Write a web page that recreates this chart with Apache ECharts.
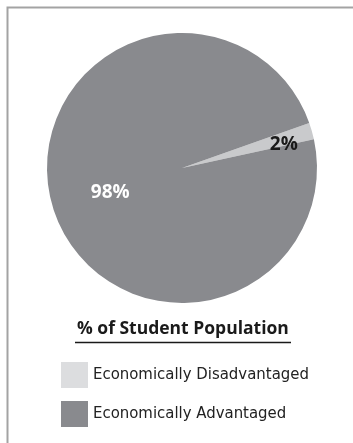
<!DOCTYPE html>
<html>
<head>
<meta charset="utf-8">
<script src="https://cdn.jsdelivr.net/npm/echarts@6/dist/echarts.min.js"></script>
<style>
  html, body { margin: 0; padding: 0; background: #fff; }
  #chart { width: 353px; height: 443px; }
</style>
</head>
<body>
<div id="chart"></div>
<script>
const categories = ['Economically Disadvantaged', 'Economically Advantaged'];
const values = [2, 98];
const sliceColors = ['#c9cacc', '#898a8e'];
const legendColors = ['#dcdddf', '#898a8e'];
const labelColors = ['#1a1a1a', '#ffffff'];
const chartTitle = '% of Student Population';

const chart = echarts.init(document.getElementById('chart'), null, { renderer: 'canvas' });
const font = '"Open Sans", "Noto Sans", sans-serif';

chart.setOption({
  animation: false,
  title: {
    text: chartTitle,
    left: 72,
    top: 315,
    textStyle: { fontFamily: font, fontSize: 17.5, fontWeight: 'bold', color: '#1a1a1a' }
  },
  legend: {
    orient: 'vertical',
    left: 56,
    top: 357,
    icon: 'rect',
    itemWidth: 27,
    itemHeight: 26,
    itemGap: 13,
    selectedMode: false,
    textStyle: { fontFamily: '"Liberation Sans Narrow", "DejaVu Sans Condensed", sans-serif', fontSize: 16.6, color: '#222' },
    data: categories.map((name, i) => ({ name, itemStyle: { color: legendColors[i] } }))
  },
  graphic: [
    { type: 'polyline', shape: { points: [[7.5, 443], [7.5, 7.5], [353, 7.5]] }, style: { stroke: '#a3a3a3', lineWidth: 2, fill: null } },
    { type: 'line', shape: { x1: 75, y1: 342.5, x2: 291, y2: 342.5 }, style: { stroke: '#1a1a1a', lineWidth: 1.5 } }
  ],
  series: [{
    type: 'pie',
    center: [182, 168],
    radius: 135,
    startAngle: 19.5,
    clockwise: true,
    silent: true,
    label: {
      position: 'inside',
      formatter: '{c}%',
      fontFamily: font,
      fontSize: 19,
      fontWeight: 'bold'
    },
    labelLayout: function (params) {
      if (params.dataIndex === 0) return { dx: 34, dy: -4 };
      return { dx: -4, dy: 5 };
    },
    labelLine: { show: false },
    data: categories.map((name, i) => ({
      name,
      value: values[i],
      itemStyle: { color: sliceColors[i] },
      label: { color: labelColors[i] }
    }))
  }]
});
</script>
</body>
</html>
